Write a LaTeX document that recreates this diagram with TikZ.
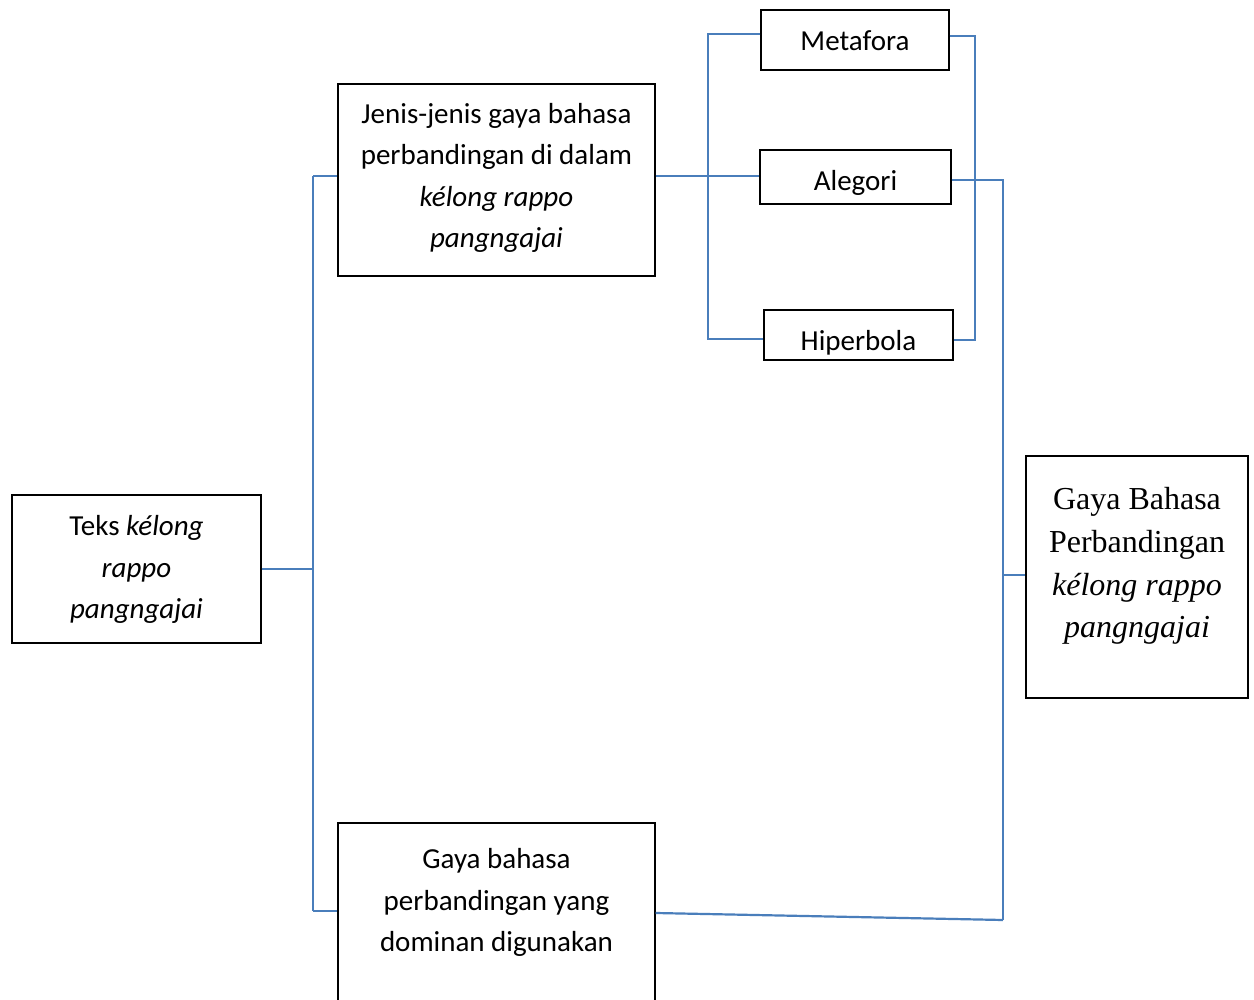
\documentclass[tikz,border=0pt]{standalone}
\usepackage{fontspec}
\setmainfont{Carlito}
\newfontfamily\timesfont{Liberation Serif}
\definecolor{conncol}{RGB}{74,126,187}
\begin{document}
\begin{tikzpicture}[x=1pt,y=-1pt,
  box/.style={draw=black,line width=1.3pt,fill=none,inner sep=0pt,rectangle},
  txt/.style={align=center,inner sep=0pt,font=\fontsize{29}{41.5}\selectfont},
  serif/.style={align=center,inner sep=0pt,font=\timesfont\fontsize{32}{42.7}\selectfont},
  conn/.style={draw=conncol,line width=2.2pt}]
\clip (0,0) rectangle (1254,1000);
\fill[white] (0,0) rectangle (1254,1000);
% boxes
\node[box,minimum width=249,minimum height=148] (teks) at (136.5,569) {};
\node[box,minimum width=317,minimum height=192] (jenis) at (496.5,180) {};
\node[box,minimum width=317,minimum height=200] (dom) at (496.5,923) {};
\node[box,minimum width=188,minimum height=60] (metafora) at (855,40) {};
\node[box,minimum width=191,minimum height=54] (alegori) at (855.5,177) {};
\node[box,minimum width=189,minimum height=50] (hiper) at (858.5,335) {};
\node[box,minimum width=222,minimum height=242] (gaya) at (1137,577) {};
% texts
\node[txt] (teksT) at (136.5,569.5) {Teks \textit{kélong}\\\textit{rappo}\\\textit{pangngajai}};
\node[txt] (jenisT) at (496.5,178) {Jenis-jenis gaya bahasa\\perbandingan di dalam\\\textit{kélong rappo}\\\textit{pangngajai}};
\node[txt] (domT) at (496.5,902.5) {Gaya bahasa\\perbandingan yang\\dominan digunakan};
\node[txt,anchor=base] (metaforaT) at (855,51) {Metafora};
\node[txt,anchor=base] (alegoriT) at (855.5,191) {Alegori};
\begin{scope}
\clip (764,310) rectangle (953,359);
\node[txt,anchor=base] (hiperT) at (858.5,351) {Hiperbola};
\end{scope}
\node[serif] (gayaT) at (1137,566) {Gaya Bahasa\\Perbandingan\\\textit{kélong rappo}\\\textit{pangngajai}};
% redraw hiperbola border on top
\draw[black,line width=1.3pt] (hiper.south west) rectangle (hiper.north east);
% connectors
\coordinate (t1) at (313,176);
\coordinate (t2) at (313,911);
\coordinate (m1) at (708,34);
\coordinate (m2) at (708,339);
\coordinate (r1) at (975,36);
\coordinate (r2) at (975,340);
\coordinate (a1) at (1003,180);
\coordinate (a2) at (1003,920);
\coordinate (a3) at (1003,575);
\coordinate (dy) at (0,913);
\draw[conn] (t1) -- (t2);
\draw[conn] (teks.east) -- (teks.east -| t1);
\draw[conn] (t1) -- (t1 -| jenis.west);
\draw[conn] (t2) -- (t2 -| dom.west);
\draw[conn] (jenis.east |- t1) -- (alegori.west |- t1);
\draw[conn] (m1 -| metafora.west) -- (m1) -- (m2) -- (m2 -| hiper.west);
\draw[conn] (metafora.east |- r1) -- (r1) -- (r2) -- (hiper.east |- r2);
\draw[conn] (alegori.east |- a1) -- (a1) -- (a2);
\draw[conn] (a3) -- (a3 -| gaya.west);
\draw[conn] (dom.east |- dy) -- (a2);
\end{tikzpicture}
\end{document}
